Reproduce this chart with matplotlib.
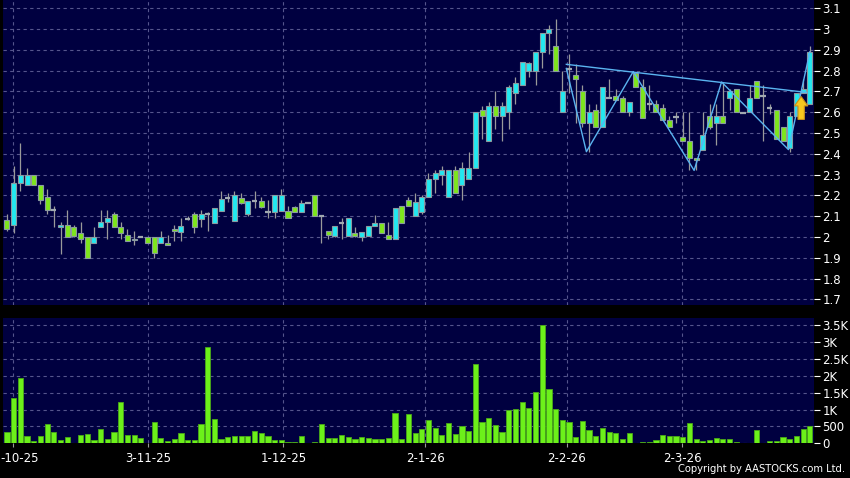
import matplotlib
matplotlib.use("Agg")
import matplotlib.pyplot as plt
import matplotlib.transforms as mtransforms
from matplotlib.patches import FancyArrow
import numpy as np

########
# DATA #
########
opens = [2.08, 2.06, 2.26, 2.25, 2.30, 2.25, 2.19, 2.13, 2.05, 2.06,
         2.05, 2.02, 2.00, 1.97, 2.05, 2.07, 2.11, 2.05, 2.01, 1.985,
         2.00, 2.00, 2.00, 1.97, 1.97, 2.037, 2.026, 2.085, 2.109, 2.088,
         2.109, 2.069, 2.127, 2.186, 2.078, 2.189, 2.109, 2.173, 2.173, 2.122,
         2.119, 2.127, 2.127, 2.146, 2.119, 2.162, 2.202, 2.101, 2.027, 2.006,
         2.066, 2.006, 2.018, 2.00, 2.006, 2.053, 2.069, 2.01, 1.989, 2.149,
         2.178, 2.10, 2.12, 2.19, 2.28, 2.30, 2.19, 2.32, 2.25, 2.28,
         2.33, 2.61, 2.46, 2.63, 2.58, 2.60, 2.69, 2.73, 2.80, 2.80,
         2.89, 2.98, 2.92, 2.60, 2.806, 2.78, 2.70, 2.55, 2.61, 2.53,
         2.67, 2.68, 2.67, 2.60, 2.79, 2.72, 2.64, 2.64, 2.62, 2.56,
         2.575, 2.48, 2.46, 2.38, 2.42, 2.58, 2.55, 2.58, 2.67, 2.71,
         2.595, 2.60, 2.75, 2.68, 2.62, 2.61, 2.53, 2.43, 2.58, 2.69,
         2.64]
highs = [2.11, 2.34, 2.45, 2.33, 2.30, 2.25, 2.23, 2.15, 2.07, 2.13,
         2.06, 2.07, 2.00, 2.05, 2.13, 2.13, 2.12, 2.07, 2.04, 2.03,
         2.00, 2.00, 2.00, 2.03, 2.01, 2.06, 2.09, 2.10, 2.12, 2.13,
         2.12, 2.14, 2.22, 2.21, 2.22, 2.21, 2.173, 2.22, 2.19, 2.18,
         2.202, 2.23, 2.15, 2.15, 2.18, 2.162, 2.202, 2.101, 2.03, 2.053,
         2.09, 2.09, 2.05, 2.026, 2.053, 2.106, 2.069, 2.074, 2.138, 2.149,
         2.19, 2.21, 2.20, 2.31, 2.32, 2.34, 2.32, 2.34, 2.36, 2.41,
         2.60, 2.63, 2.65, 2.70, 2.65, 2.73, 2.77, 2.84, 2.84, 2.89,
         2.98, 3.02, 3.05, 2.80, 2.88, 2.83, 2.73, 2.64, 2.64, 2.72,
         2.76, 2.71, 2.68, 2.65, 2.79, 2.76, 2.73, 2.66, 2.64, 2.58,
         2.60, 2.60, 2.60, 2.38, 2.60, 2.64, 2.64, 2.74, 2.71, 2.71,
         2.595, 2.73, 2.75, 2.73, 2.64, 2.61, 2.53, 2.60, 2.69, 2.76,
         2.92]
lows = [2.03, 2.02, 2.22, 2.25, 2.25, 2.16, 2.11, 2.05, 1.92, 2.00,
        2.00, 1.97, 1.90, 1.97, 2.05, 1.99, 2.05, 1.99, 1.98, 1.96,
        2.00, 1.97, 1.90, 1.97, 1.96, 1.98, 1.98, 2.08, 2.02, 2.05,
        2.03, 2.069, 2.127, 2.17, 2.078, 2.16, 2.10, 2.14, 2.14, 2.09,
        2.09, 2.127, 2.09, 2.12, 2.119, 2.162, 2.101, 1.97, 1.99, 2.00,
        1.99, 2.006, 2.00, 1.98, 2.006, 2.053, 2.018, 1.99, 1.989, 2.069,
        2.149, 2.10, 2.11, 2.19, 2.21, 2.25, 2.19, 2.21, 2.18, 2.28,
        2.33, 2.47, 2.46, 2.52, 2.46, 2.52, 2.64, 2.73, 2.77, 2.73,
        2.81, 2.88, 2.80, 2.60, 2.69, 2.55, 2.53, 2.41, 2.53, 2.53,
        2.67, 2.66, 2.60, 2.58, 2.72, 2.57, 2.61, 2.60, 2.56, 2.53,
        2.55, 2.46, 2.32, 2.32, 2.42, 2.52, 2.44, 2.55, 2.61, 2.60,
        2.595, 2.60, 2.67, 2.46, 2.59, 2.47, 2.46, 2.41, 2.58, 2.69,
        2.64]
closes = [2.04, 2.26, 2.30, 2.30, 2.25, 2.18, 2.13, 2.13, 2.06, 2.00,
          2.005, 1.99, 1.90, 2.00, 2.07, 2.09, 2.05, 2.02, 1.98, 1.99,
          2.00, 1.97, 1.925, 2.00, 1.96, 2.03, 2.051, 2.085, 2.05, 2.109,
          2.109, 2.138, 2.181, 2.186, 2.202, 2.162, 2.173, 2.173, 2.146, 2.122,
          2.202, 2.202, 2.09, 2.119, 2.162, 2.162, 2.101, 2.101, 2.008, 2.053,
          2.066, 2.09, 2.006, 2.026, 2.053, 2.069, 2.018, 1.99, 2.138, 2.069,
          2.149, 2.17, 2.19, 2.28, 2.31, 2.32, 2.32, 2.21, 2.33, 2.33,
          2.60, 2.58, 2.63, 2.58, 2.63, 2.72, 2.74, 2.84, 2.835, 2.89,
          2.98, 3.00, 2.80, 2.70, 2.806, 2.76, 2.55, 2.60, 2.53, 2.72,
          2.67, 2.66, 2.60, 2.65, 2.72, 2.57, 2.64, 2.60, 2.56, 2.53,
          2.575, 2.46, 2.38, 2.37, 2.49, 2.53, 2.58, 2.55, 2.70, 2.60,
          2.595, 2.67, 2.67, 2.68, 2.62, 2.47, 2.46, 2.58, 2.69, 2.71,
          2.89]
volumes = [325, 1350, 1940, 227, 70, 217, 572, 325, 89, 197,
           5, 237, 266, 89, 434, 138, 345, 1213, 256, 237,
           158, 10, 621, 168, 70, 138, 296, 89, 89, 562,
           2860, 720, 128, 187, 227, 217, 217, 355, 306, 217,
           108, 108, 39, 30, 217, 0, 39, 572, 158, 158,
           237, 177, 118, 187, 148, 118, 138, 148, 887, 118,
           877, 306, 424, 680, 463, 246, 601, 286, 503, 365,
           2337, 631, 740, 552, 345, 986, 1006, 1213, 1035, 1509,
           3490, 1607, 1016, 690, 641, 187, 670, 394, 207, 454,
           325, 306, 128, 306, 5, 49, 49, 108, 256, 217,
           217, 187, 592, 118, 79, 99, 158, 138, 138, 30,
           0, 20, 385, 20, 59, 69, 177, 138, 227, 424,
           503]

# date labels and where they sit (bar index); first one is cut in the source
date_labels = ["-10-25", "3-11-25", "1-12-25", "2-1-26", "2-2-26", "2-3-26"]
date_pos = [0.9, 21.1, 41.3, 62.5, 83.7, 100.9]

price_ticks = [1.7, 1.8, 1.9, 2.0, 2.1, 2.2, 2.3, 2.4, 2.5, 2.6, 2.7, 2.8, 2.9, 3.0, 3.1]
vol_ticks = [0, 500, 1000, 1500, 2000, 2500, 3000, 3500]
vol_labels = ["0", "500", "1K", "1.5K", "2K", "2.5K", "3K", "3.5K"]

# pattern lines drawn on the chart
neck_x = [83.6, 119.5]
neck_y = [2.83, 2.695]
zig_x = [83.6, 86.6, 93.6, 102.7, 106.8, 116.8, 120.0]
zig_y = [2.81, 2.41, 2.795, 2.32, 2.745, 2.42, 2.89]
arrow_x = 118.7
arrow_from = 2.565
arrow_to = 2.675

##########
# COLORS #
##########
BG = "#000040"
UP = "#22e8f0"
DOWN = "#7ee61c"
EDGE = "#8a9aa0"
GRID = "#55558c"

############
# PLOTTING #
############
plt.rcParams['font.family'] = ['DejaVu Sans']
f = plt.figure(figsize=(8.5, 4.78), dpi=100, facecolor="black")
ax = f.add_axes([0.0035, 0.3619, 0.954, 0.638])
axv = f.add_axes([0.0035, 0.0726, 0.954, 0.262])

o = np.array(opens)
h = np.array(highs)
l = np.array(lows)
c = np.array(closes)
idx = np.arange(len(o))

# ---PRICE PANEL---#
ax.set_facecolor(BG)
ax.vlines(idx, l, h, color="#9a9a9a", lw=0.9, zorder=2)
up = c > o + 0.003
dn = c < o - 0.003
flat = ~(up | dn)
ax.bar(idx[up], (c - o)[up], bottom=o[up], width=0.75, color=UP,
       edgecolor=EDGE, linewidth=0.8, zorder=3)
ax.bar(idx[dn], (o - c)[dn], bottom=c[dn], width=0.75, color=DOWN,
       edgecolor=EDGE, linewidth=0.8, zorder=3)
ax.hlines(c[flat], idx[flat] - 0.4, idx[flat] + 0.4, color="#a0a8b0", lw=1.6, zorder=3)

# pattern lines + arrow
ax.plot(neck_x, neck_y, color="#5ab4f0", lw=1.0, zorder=4)
ax.plot(zig_x, zig_y, color="#5ab4f0", lw=1.0, zorder=4)
ax.add_patch(FancyArrow(arrow_x, arrow_from, 0, arrow_to - arrow_from, width=0.95,
                        head_width=2.0, head_length=0.045, length_includes_head=True,
                        fc="#f7c81e", ec="#c8901a", lw=0.8, zorder=5))

ax.set_xlim(-0.6, 120.6)
ax.set_ylim(1.673, 3.139)
ax.yaxis.tick_right()
ax.set_yticks(price_ticks)
ax.set_yticklabels(["%g" % t for t in price_ticks])
ax.set_xticks(date_pos)
ax.set_xticklabels([])
ax.tick_params(axis="y", colors="white", labelsize=8.5, length=4, pad=2)
ax.tick_params(axis="x", length=0)
ax.grid(True, color=GRID, linestyle=(0, (3, 3)), lw=0.8)
for s in ax.spines.values():
    s.set_visible(False)

# ---VOLUME PANEL---#
axv.set_facecolor(BG)
axv.bar(idx, volumes, width=0.78, color="#6cf01a", edgecolor="#4aa818", linewidth=0.6, zorder=3)
axv.set_xlim(-0.6, 120.6)
axv.set_ylim(0, 3707)
axv.yaxis.tick_right()
axv.set_yticks(vol_ticks)
axv.set_yticklabels(vol_labels)
axv.set_xticks(date_pos)
axv.set_xticklabels(date_labels)
axv.tick_params(axis="y", colors="white", labelsize=8.5, length=4, pad=2)
axv.tick_params(axis="x", colors="#9a9a9a", labelcolor="white", labelsize=8.5, length=3, pad=3)
axv.grid(True, color=GRID, linestyle=(0, (3, 3)), lw=0.8)
for s in axv.spines.values():
    s.set_visible(False)

# first date label starts right at the left edge
first = axv.get_xticklabels()[0]
first.set_horizontalalignment("left")
first.set_transform(first.get_transform() + mtransforms.ScaledTranslation(-0.125, 0, f.dpi_scale_trans))

f.text(0.994, 0.008, "Copyright by AASTOCKS.com Ltd.", color="white",
       fontsize=7.2, ha="right", va="bottom")

f.savefig("out.png", dpi=100, facecolor="black")
